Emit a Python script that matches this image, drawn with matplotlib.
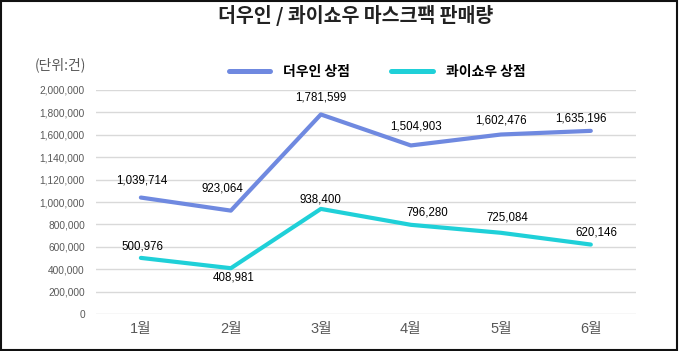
import matplotlib.pyplot as plt
from matplotlib.patches import Rectangle

plt.rcParams['font.family'] = ['Noto Sans CJK KR', 'DejaVu Sans']

months = ['1월', '2월', '3월', '4월', '5월', '6월']
douyin = [1039714, 923064, 1781599, 1504903, 1602476, 1635196]
kuaishou = [500976, 408981, 938400, 796280, 725084, 620146]

# 원본 그림의 눈금 라벨 그대로 (1,200,000 / 1,400,000 자리가 이렇게 적혀 있음)
yticks = [0, 200000, 400000, 600000, 800000, 1000000, 1200000, 1400000, 1600000, 1800000, 2000000]
ytick_labels = ['0', '200,000', '400,000', '600,000', '800,000', '1,000,000',
                '1,120,000', '1,140,000', '1,600,000', '1,800,000', '2,000,000']

# 값 라벨 위치 조정 (points)
off_douyin = [(1, 12), (-6, 16), (0, 12), (4, 14), (0, 10), (-7, 9)]
off_kuaishou = [(1, 8), (2, -7), (0, 7), (12, 9), (5, 11), (4, 9)]

c_douyin = '#6f89e0'
c_kuaishou = '#1fd0d8'

fig = plt.figure(figsize=(6.8, 3.51), dpi=100)
ax = fig.add_axes([0.141, 0.1054, 0.794, 0.6382])

x = list(range(len(months)))
ax.plot(x, douyin, color=c_douyin, lw=3, label='더우인 상점', solid_capstyle='round')
ax.plot(x, kuaishou, color=c_kuaishou, lw=3, label='콰이쇼우 상점', solid_capstyle='round')

for i, v in enumerate(douyin):
    ax.annotate(f'{v:,}', (i, v), xytext=off_douyin[i], textcoords='offset points',
                ha='center', va='center', fontsize=8.3, family=['Liberation Sans'],
                annotation_clip=False)
for i, v in enumerate(kuaishou):
    ax.annotate(f'{v:,}', (i, v), xytext=off_kuaishou[i], textcoords='offset points',
                ha='center', va='center', fontsize=8.3, family=['Liberation Sans'],
                annotation_clip=False)

ax.set_xlim(-0.5, 5.5)
ax.set_ylim(0, 2000000)
ax.set_yticks(yticks)
ax.set_yticklabels(ytick_labels, family=['Liberation Sans'], fontsize=7.3, color='#595959')
ax.set_xticks(x)
ax.set_xticklabels(months, family=['Liberation Sans', 'Noto Sans CJK KR'], fontsize=10.5, color='#595959')
ax.tick_params(length=0, pad=8)
ax.tick_params(axis='x', pad=6)
ax.grid(axis='y', color='#d9d9d9', lw=1)
ax.set_axisbelow(True)
for s in ax.spines.values():
    s.set_visible(False)

fig.text(356 / 680, 1 - 16 / 351, '더우인 / 콰이쇼우 마스크팩 판매량', ha='center', va='center',
         fontsize=14, fontweight='bold', color='#222222')
fig.text(60 / 680, 1 - 65 / 351, '(단위:건)', ha='center', va='center', fontsize=10, color='#595959')

leg = fig.legend(loc='center', bbox_to_anchor=(377 / 680, 1 - 72 / 351), ncol=2, frameon=False,
                 handlelength=3, handletextpad=0.9, columnspacing=3.0,
                 prop={'weight': 'bold', 'size': 10})
for h in leg.get_lines():
    h.set_linewidth(3.6)

fig.patches.append(Rectangle((0.002, 0.004), 0.994, 0.992, transform=fig.transFigure,
                             fill=False, edgecolor='#111111', lw=1.5))

fig.savefig('out.png', dpi=100)
